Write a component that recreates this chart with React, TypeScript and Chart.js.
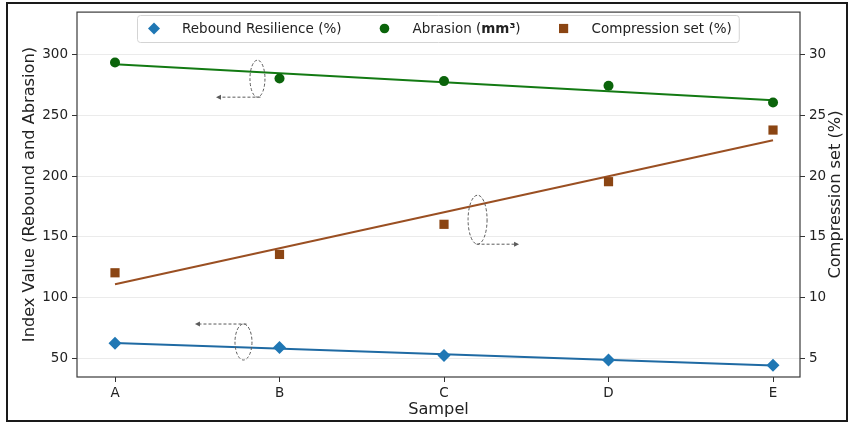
import React, { useEffect, useRef } from 'react';
import { Chart, registerables } from 'chart.js';

Chart.register(...registerables);

// ---------- data ----------
const categories = ['A', 'B', 'C', 'D', 'E'];
const reboundValues = [62.4, 58.9, 52.2, 48.6, 44.3];
const abrasionValues = [293.5, 280.3, 278.2, 274.3, 260.6];
const compressionValues = [12.04, 13.55, 16.03, 19.54, 23.79];
// fitted trend lines, values at A and at E
const reboundTrend = [62.6, 44.0];
const abrasionTrend = [292.0, 262.5];
const compressionTrend = [11.1, 22.95];
const leftTicks = [50, 100, 150, 200, 250, 300];
const rightTicks = [5, 10, 15, 20, 25, 30];

// ---------- style ----------
const FONT = "'DejaVu Sans', sans-serif";
const BLUE = '#1f77b4';
const GREEN = '#0b640b';
const BROWN = '#8B4513';
const BLUE_LINE = '#1f6aa3';
const GREEN_LINE = '#137a13';
const BROWN_LINE = '#9a4f22';
const TEXT = '#222';

// axis-indicator ellipses (center in data coords, radii in px)
const axisMarkers = [
  { cx: 0.866, cy: 280.2, rx: 7.5, ry: 18.5, edge: 'bottom', toX: 0.626 },
  { cx: 2.204, cy: 164.1, rx: 9.5, ry: 24.5, edge: 'bottom', toX: 2.444 },
  { cx: 0.781, cy: 63.4, rx: 8.5, ry: 18, edge: 'top', toX: 0.498 },
];

type Seg = { t: string; bold?: boolean };
const legendItems: { label: Seg[]; style: string; color: string }[] = [
  { label: [{ t: 'Rebound Resilience (%)' }], style: 'diamond', color: BLUE },
  { label: [{ t: 'Abrasion (' }, { t: 'mm³', bold: true }, { t: ')' }], style: 'circle', color: GREEN },
  { label: [{ t: 'Compression set (%)' }], style: 'square', color: BROWN },
];

function drawMarker(ctx: CanvasRenderingContext2D, style: string, x: number, y: number, color: string) {
  ctx.save();
  ctx.fillStyle = color;
  ctx.beginPath();
  if (style === 'diamond') {
    const r = 6;
    ctx.moveTo(x, y - r);
    ctx.lineTo(x + r, y);
    ctx.lineTo(x, y + r);
    ctx.lineTo(x - r, y);
    ctx.closePath();
  } else if (style === 'circle') {
    ctx.arc(x, y, 4.8, 0, Math.PI * 2);
  } else {
    ctx.rect(x - 4.6, y - 4.6, 9.2, 9.2);
  }
  ctx.fill();
  ctx.restore();
}

const decorPlugin = {
  id: 'decor',
  afterDatasetsDraw(chart: any) {
    const { ctx, chartArea: a, scales } = chart;
    const xs = scales.x;
    const ys = scales.y;
    ctx.save();
    // axis indicator ellipses and arrows
    ctx.strokeStyle = '#5a5a5a';
    ctx.fillStyle = '#5a5a5a';
    ctx.lineWidth = 1;
    for (const m of axisMarkers) {
      const px = xs.getPixelForValue(m.cx);
      const py = ys.getPixelForValue(m.cy);
      ctx.setLineDash([3, 2]);
      ctx.beginPath();
      ctx.ellipse(px, py, m.rx, m.ry, 0, 0, Math.PI * 2);
      ctx.stroke();
      const ay = m.edge === 'bottom' ? py + m.ry : py - m.ry;
      const tx = xs.getPixelForValue(m.toX);
      ctx.beginPath();
      ctx.moveTo(px + (tx < px ? 3 : -1), ay);
      ctx.lineTo(tx, ay);
      ctx.stroke();
      ctx.setLineDash([]);
      const dir = tx < px ? -1 : 1;
      ctx.beginPath();
      ctx.moveTo(tx + dir * 2, ay);
      ctx.lineTo(tx - dir * 3, ay - 2.5);
      ctx.lineTo(tx - dir * 3, ay + 2.5);
      ctx.closePath();
      ctx.fill();
    }
    // plot frame (spines)
    ctx.strokeStyle = '#3a3a3a';
    ctx.lineWidth = 1.2;
    ctx.strokeRect(a.left, a.top, a.right - a.left, a.bottom - a.top);
    ctx.restore();
  },
  afterDraw(chart: any) {
    const { ctx, chartArea: a } = chart;
    ctx.save();
    // axis titles
    ctx.fillStyle = TEXT;
    ctx.font = `16.2px ${FONT}`;
    ctx.textAlign = 'center';
    ctx.textBaseline = 'middle';
    const midY = (a.top + a.bottom) / 2;
    ctx.save();
    ctx.translate(30, midY);
    ctx.rotate(-Math.PI / 2);
    ctx.fillText('Index Value (Rebound and Abrasion)', 0, 0);
    ctx.restore();
    ctx.save();
    ctx.translate(836, midY);
    ctx.rotate(-Math.PI / 2);
    ctx.fillText('Compression set (%)', 0, 0);
    ctx.restore();
    ctx.fillText('Sampel', (a.left + a.right) / 2, 410);

    // legend
    const lx = 137, ly = 15, lh = 27;
    const cy = ly + lh / 2;
    const normal = `13.5px ${FONT}`;
    const bold = `bold 13.5px ${FONT}`;
    const layout: { mx: number; tx: number; segs: Seg[]; style: string; color: string }[] = [];
    let mx = lx + 17;
    let end = mx;
    for (const it of legendItems) {
      const tx = mx + 28;
      let w = 0;
      for (const s of it.label) {
        ctx.font = s.bold ? bold : normal;
        w += ctx.measureText(s.t).width;
      }
      layout.push({ mx, tx, segs: it.label, style: it.style, color: it.color });
      end = tx + w;
      mx = end + 43;
    }
    const lw = end + 7 - lx;
    ctx.beginPath();
    ctx.roundRect(lx + 0.5, ly + 0.5, lw, lh, 3);
    ctx.fillStyle = 'rgba(255,255,255,0.85)';
    ctx.fill();
    ctx.strokeStyle = '#d4d4d4';
    ctx.lineWidth = 1;
    ctx.stroke();
    ctx.textAlign = 'left';
    ctx.textBaseline = 'middle';
    for (const L of layout) {
      drawMarker(ctx, L.style, L.mx, cy, L.color);
      let x = L.tx;
      for (const s of L.segs) {
        ctx.font = s.bold ? bold : normal;
        ctx.fillStyle = TEXT;
        ctx.fillText(s.t, x, cy + 0.5);
        x += ctx.measureText(s.t).width;
      }
    }
    ctx.restore();
  },
};

const tickFont = { family: FONT, size: 13.5 };

export default function App() {
  const ref = useRef<HTMLCanvasElement | null>(null);

  useEffect(() => {
    document.body.style.margin = '0';
    const canvas = ref.current;
    if (!canvas) return;
    const pts = (vals: number[]) => vals.map((v, i) => ({ x: i, y: v }));
    const trend = (vals: number[]) => [
      { x: 0, y: vals[0] },
      { x: categories.length - 1, y: vals[1] },
    ];
    const chart = new Chart(canvas, {
      type: 'line',
      data: {
        datasets: [
          { label: 'Rebound Resilience (%)', data: pts(reboundValues), yAxisID: 'y', showLine: false, pointStyle: 'rectRot', pointRadius: 6.5, backgroundColor: BLUE, borderColor: BLUE, borderWidth: 0 },
          { label: 'Abrasion', data: pts(abrasionValues), yAxisID: 'y', showLine: false, pointStyle: 'circle', pointRadius: 5, backgroundColor: GREEN, borderColor: GREEN, borderWidth: 0 },
          { label: 'Compression set (%)', data: pts(compressionValues), yAxisID: 'y2', showLine: false, pointStyle: 'rect', pointRadius: 6.5, backgroundColor: BROWN, borderColor: BROWN, borderWidth: 0 },
          { label: 'rt', data: trend(reboundTrend), yAxisID: 'y', pointRadius: 0, borderColor: BLUE_LINE, borderWidth: 2, fill: false },
          { label: 'at', data: trend(abrasionTrend), yAxisID: 'y', pointRadius: 0, borderColor: GREEN_LINE, borderWidth: 2, fill: false },
          { label: 'ct', data: trend(compressionTrend), yAxisID: 'y2', pointRadius: 0, borderColor: BROWN_LINE, borderWidth: 2, fill: false },
        ] as any,
      },
      options: {
        animation: false,
        responsive: false,
        devicePixelRatio: 1,
        layout: { padding: { top: 6, left: 0, right: 0, bottom: 0 } },
        plugins: { legend: { display: false }, tooltip: { enabled: false } },
        events: [],
        scales: {
          x: {
            type: 'linear',
            position: 'bottom',
            min: -0.231,
            max: 4.164,
            afterBuildTicks: (s: any) => { s.ticks = categories.map((_, i) => ({ value: i })); },
            afterFit: (s: any) => { s.height = 45; },
            ticks: { callback: (v: any) => categories[v] ?? '', font: tickFont, color: TEXT, padding: 3, maxRotation: 0, autoSkip: false },
            grid: { drawOnChartArea: false, tickLength: 5, tickColor: '#333', color: '#333' },
            border: { display: false },
          },
          y: {
            type: 'linear',
            position: 'left',
            min: 34.6,
            max: 335,
            afterBuildTicks: (s: any) => { s.ticks = leftTicks.map((v) => ({ value: v })); },
            afterFit: (s: any) => { s.width = 77; },
            ticks: { font: tickFont, color: TEXT, padding: 4 },
            grid: { color: 'rgba(0,0,0,0.08)', tickLength: 5, tickColor: '#333' },
            border: { display: false },
          },
          y2: {
            type: 'linear',
            position: 'right',
            min: 3.46,
            max: 33.5,
            afterBuildTicks: (s: any) => { s.ticks = rightTicks.map((v) => ({ value: v })); },
            afterFit: (s: any) => { s.width = 48; },
            ticks: { font: tickFont, color: TEXT, padding: 4 },
            grid: { drawOnChartArea: false, tickLength: 5, tickColor: '#333' },
            border: { display: false },
          },
        },
      } as any,
      plugins: [decorPlugin],
    });
    return () => chart.destroy();
  }, []);

  return (
    <div style={{ position: 'relative', width: 848, height: 422, background: '#fff' }}>
      <canvas ref={ref} width={848} height={422} style={{ display: 'block' }} />
      <div
        style={{
          position: 'absolute',
          left: 6,
          top: 2,
          width: 842,
          height: 420,
          boxSizing: 'border-box',
          border: '2px solid #1a1a1a',
          pointerEvents: 'none',
        }}
      />
    </div>
  );
}
